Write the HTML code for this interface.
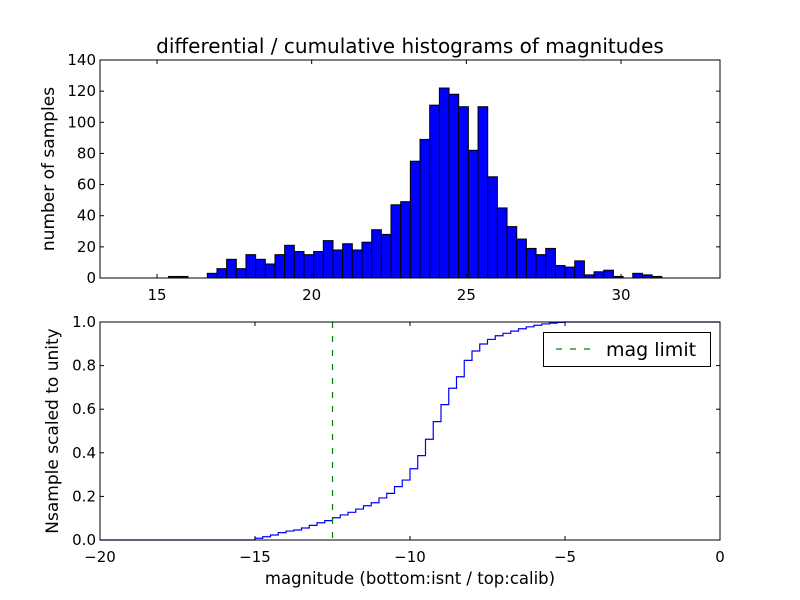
<!DOCTYPE html>
<html><head><meta charset="utf-8"><style>
body{margin:0;background:#fff;}
svg{display:block;font-family:"DejaVu Sans","Liberation Sans",sans-serif;}
</style></head><body>
<svg id="c" width="800" height="600" viewBox="0 0 800 600"></svg>
<script>
// top histogram data
const binStart = 15.375;
const binWidth = 0.3126;
const counts = [1,1,0,0,3,6,12,6,15,12,9,15,21,17,15,17,24,18,22,18,23,31,28,47,49,75,89,111,122,118,110,82,110,65,45,33,25,19,15,19,8,7,11,2,4,5,1,0,3,2,1];
const topXTicks = [15,20,25,30];
const topYTicks = [0,20,40,60,80,100,120,140];
// bottom cumulative data
const cumStart = -15;
const cumWidth = 0.25;
const cumValues = [0.008,0.015,0.023,0.034,0.041,0.046,0.055,0.067,0.079,0.089,0.102,0.115,0.127,0.142,0.157,0.171,0.193,0.214,0.245,0.275,0.327,0.387,0.462,0.543,0.621,0.696,0.749,0.824,0.867,0.899,0.920,0.937,0.948,0.958,0.969,0.978,0.985,0.991,0.995,0.998,1.0];
const magLimit = -12.5;
const botXTicks = [-20,-15,-10,-5,0];
const botYTicks = [0,0.2,0.4,0.6,0.8,1.0];

const NS="http://www.w3.org/2000/svg";
const svg=document.getElementById('c');
function mk(tag,attrs,parent){const e=document.createElementNS(NS,tag);for(const k in attrs)e.setAttribute(k,attrs[k]);(parent||svg).appendChild(e);return e;}

const L=100,R=720;
const tx=v=>L+(v-13.157)/(33.2-13.157)*(R-L);
const ty=v=>278-v/140*218;
const bx=v=>L+(v+20)/20*(R-L);
const by=v=>540-v*218;

counts.forEach((c,i)=>{
  if(c<=0)return;
  const x0=tx(binStart+i*binWidth),x1=tx(binStart+(i+1)*binWidth);
  const r=mk('rect',{x:x0,y:ty(c),width:x1-x0,height:ty(0)-ty(c),fill:'#0000ff',stroke:'#000','stroke-width':1});
  
  
});

function axes(top,bot,xt,xf,yt,yf,name,fmtY){
  const f=mk('rect',{x:L,y:top,width:R-L,height:bot-top,fill:'none',stroke:'#000','stroke-width':1});
  
  
  xt.forEach(v=>{
    const x=xf(v);
    mk('line',{x1:x,x2:x,y1:bot,y2:bot-4,stroke:'#000'});
    mk('line',{x1:x,x2:x,y1:top,y2:top+4,stroke:'#000'});
    const t=mk('text',{x:x,y:bot+22,'text-anchor':'middle','font-size':15});
    t.textContent=v<0?'\u2212'+(-v):v;
    
    
  });
  yt.forEach(v=>{
    const y=yf(v);
    mk('line',{x1:L,x2:L+4,y1:y,y2:y,stroke:'#000'});
    mk('line',{x1:R,x2:R-4,y1:y,y2:y,stroke:'#000'});
    const t=mk('text',{x:L-4,y:y+5,'text-anchor':'end','font-size':15});
    t.textContent=fmtY(v);
    
    
  });
}
axes(60,278,topXTicks,tx,topYTicks,ty,'top',v=>String(v));

let d='M'+L+','+by(0)+' L'+bx(cumStart)+','+by(0);
cumValues.forEach((v,i)=>{
  const x0=bx(cumStart+i*cumWidth),x1=bx(cumStart+(i+1)*cumWidth);
  d+=' L'+x0+','+by(v)+' L'+x1+','+by(v);
});
d+=' L'+R+','+by(cumValues[cumValues.length-1]);
const p=mk('path',{d:d,fill:'none',stroke:'#0000ff','stroke-width':1.2});


const ml=mk('line',{x1:bx(magLimit),x2:bx(magLimit),y1:322,y2:540,stroke:'#008000','stroke-width':1.2,'stroke-dasharray':'6,8'});


axes(322,540,botXTicks,bx,botYTicks,by,'bottom',v=>v.toFixed(1));
</script>
<svg width="800" height="600" style="position:absolute;left:0;top:0">
<text x="410" y="53" text-anchor="middle" font-size="20">differential / cumulative histograms of magnitudes</text>
<text transform="translate(54,169) rotate(-90)" text-anchor="middle" font-size="17">number of samples</text>
<text transform="translate(58,431) rotate(-90)" text-anchor="middle" font-size="17">Nsample scaled to unity</text>
<text x="410" y="584" text-anchor="middle" font-size="16.5">magnitude (bottom:isnt / top:calib)</text>
<g>
<rect x="543.5" y="332.5" width="167" height="34" fill="#fff" stroke="#000"/>
<line x1="556" x2="594" y1="349" y2="349" stroke="#008000" stroke-width="1.2" stroke-dasharray="6,8"/>
<text x="606" y="356" font-size="19">mag limit</text>
</g>
</svg>
</body></html>
